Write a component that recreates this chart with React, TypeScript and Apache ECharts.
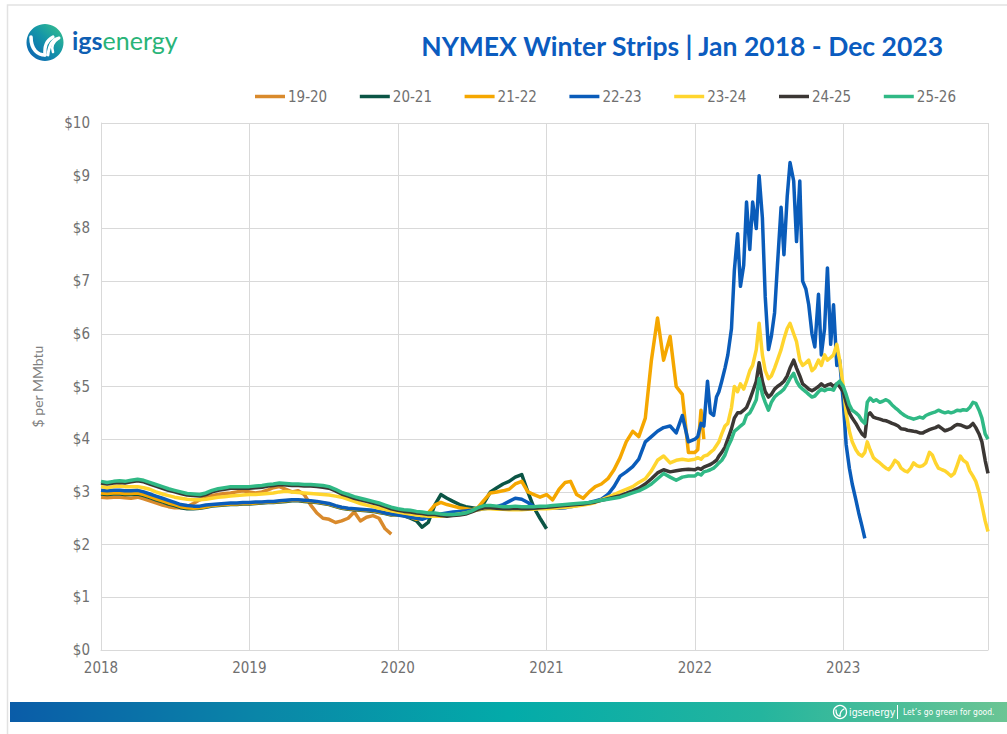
import React, { useEffect, useRef } from "react";
import * as echarts from "echarts";

const SERIES_NAMES = ["19-20", "20-21", "21-22", "22-23", "23-24", "24-25", "25-26"];
const SERIES_COLORS = ["#D98A2C", "#0B5545", "#F5A700", "#0A5CBA", "#FFD52E", "#3B3734", "#30B985"];

const TITLE = "NYMEX Winter Strips | Jan 2018 - Dec 2023";
const Y_NAME = "$ per MMbtu";

// sampling grid of the x axis (dates)
const SEMI_MONTHLY_YEARS = [2018, 2019, 2020, 2021];
const SEMI_MONTHLY_DAYS = [1, 16];
const WEEKLY_YEARS = [2022, 2023];
const WEEKLY_DAYS = [1, 8, 16, 23];

const pad = (n: number) => (n < 10 ? "0" + n : "" + n);
const DATES: string[] = [];
SEMI_MONTHLY_YEARS.forEach((y) => {
  for (let m = 1; m <= 12; m++) SEMI_MONTHLY_DAYS.forEach((d) => DATES.push(`${y}-${pad(m)}-${pad(d)}`));
});
WEEKLY_YEARS.forEach((y) => {
  for (let m = 1; m <= 12; m++) WEEKLY_DAYS.forEach((d) => DATES.push(`${y}-${pad(m)}-${pad(d)}`));
});

// values ($/MMbtu), aligned to DATES from the first date
const S_19_20 = [
  2.9, 2.89, 2.9, 2.9, 2.89, 2.88, 2.9, 2.87, 2.83, 2.79, 2.75, 2.72, 2.7, 2.7, 2.72, 2.78, 2.85, 2.9, 2.93, 2.95, 2.97, 2.98, 3.0, 3.02,
  3.0, 2.98, 3.0, 3.04, 3.08, 3.1, 3.05, 3.0, 3.02, 2.95, 2.75, 2.6, 2.5, 2.48, 2.42, 2.45, 2.5, 2.62, 2.45, 2.52, 2.55, 2.5, 2.3, 2.2,
];
const S_20_21 = [
  2.96, 2.95, 2.96, 2.96, 2.95, 2.95, 2.96, 2.93, 2.89, 2.85, 2.81, 2.77, 2.74, 2.7, 2.68, 2.68, 2.69, 2.71, 2.73, 2.74, 2.75, 2.76, 2.76, 2.77,
  2.77, 2.78, 2.79, 2.8, 2.8, 2.81, 2.82, 2.83, 2.83, 2.82, 2.81, 2.8, 2.78, 2.76, 2.72, 2.69, 2.67, 2.66, 2.65, 2.64, 2.63, 2.61, 2.59, 2.56,
  2.57, 2.55, 2.5, 2.45, 2.33, 2.42, 2.75, 2.95, 2.88, 2.82, 2.76, 2.72, 2.7, 2.68, 2.8, 3.0, 3.08, 3.15, 3.2, 3.28, 3.33, 3.0, 2.7, 2.5,
  2.3,
];
const S_21_22 = [
  2.98, 2.97, 2.98, 2.98, 2.97, 2.97, 2.98, 2.95, 2.91, 2.87, 2.83, 2.79, 2.76, 2.72, 2.7, 2.69, 2.7, 2.72, 2.74, 2.75, 2.76, 2.77, 2.77, 2.78,
  2.78, 2.79, 2.8, 2.81, 2.81, 2.82, 2.83, 2.84, 2.84, 2.83, 2.82, 2.81, 2.79, 2.77, 2.73, 2.7, 2.68, 2.67, 2.66, 2.65, 2.64, 2.62, 2.6, 2.57,
  2.56, 2.55, 2.52, 2.48, 2.5, 2.6, 2.75, 2.8, 2.76, 2.73, 2.7, 2.68, 2.66, 2.7, 2.85, 2.98, 3.0, 3.02, 3.05, 3.15, 3.2, 3.0, 2.95, 2.9,
  2.95, 2.85, 3.05, 3.18, 3.2, 2.95, 2.88, 3.0, 3.1, 3.15, 3.25, 3.42, 3.65, 3.95, 4.15, 4.05, 4.4, 5.5, 6.3, 5.5, 5.95, 5.0, 4.85, 3.75,
  3.75, 3.8, 4.55, 4.0,
];
const S_22_23 = [
  3.03, 3.02, 3.03, 3.03, 3.02, 3.02, 3.03, 3.0, 2.96, 2.92, 2.88, 2.84, 2.8, 2.76, 2.74, 2.73, 2.73, 2.75, 2.76, 2.77, 2.78, 2.79, 2.79, 2.8,
  2.8, 2.81, 2.81, 2.82, 2.82, 2.83, 2.84, 2.85, 2.85, 2.84, 2.83, 2.82, 2.8, 2.78, 2.74, 2.71, 2.69, 2.68, 2.67, 2.66, 2.65, 2.63, 2.6, 2.58,
  2.56, 2.54, 2.52, 2.5, 2.48, 2.52, 2.56, 2.58, 2.6, 2.62, 2.63, 2.64, 2.65, 2.66, 2.68, 2.7, 2.72, 2.76, 2.82, 2.88, 2.86, 2.8, 2.72, 2.7,
  2.7, 2.7, 2.69, 2.7, 2.72, 2.74, 2.77, 2.8, 2.83, 2.86, 2.95, 3.1, 3.3, 3.38, 3.48, 3.62, 3.95, 4.05, 4.15, 4.22, 4.25, 4.12, 4.45, 3.95,
  4.0, 4.05, 4.3, 4.25, 5.1, 4.5, 4.45, 4.8, 4.9, 5.1, 5.35, 5.6, 6.1, 7.2, 7.9, 6.9, 7.3, 8.5, 7.6, 8.5, 8.0, 9.0, 8.2, 6.7,
  5.7, 5.95, 6.4, 7.3, 8.4, 7.5, 8.6, 9.25, 8.9, 7.75, 8.9, 7.0, 6.85, 6.55, 6.0, 5.75, 6.75, 5.6, 6.1, 7.25, 5.8, 6.55, 5.4, 5.5,
  4.7, 3.9, 3.45, 3.15, 2.85, 2.6, 2.35, 2.12,
];
const S_23_24 = [
  3.1, 3.08, 3.1, 3.11, 3.1, 3.1, 3.1, 3.08, 3.05, 3.0, 2.96, 2.93, 2.9, 2.88, 2.86, 2.85, 2.85, 2.86, 2.88, 2.9, 2.91, 2.92, 2.93, 2.94,
  2.95, 2.95, 2.96, 2.97, 2.98, 3.0, 3.01, 3.0, 2.99, 2.98, 2.97, 2.96, 2.95, 2.94, 2.92, 2.9, 2.86, 2.82, 2.78, 2.75, 2.72, 2.69, 2.67, 2.64,
  2.62, 2.6, 2.58, 2.56, 2.55, 2.54, 2.54, 2.54, 2.55, 2.56, 2.58, 2.6, 2.63, 2.66, 2.68, 2.68, 2.67, 2.67, 2.66, 2.66, 2.66, 2.67, 2.67, 2.68,
  2.68, 2.69, 2.7, 2.71, 2.72, 2.73, 2.75, 2.77, 2.8, 2.85, 2.9, 2.95, 3.0, 3.05, 3.1, 3.18, 3.25, 3.4, 3.6, 3.68, 3.55, 3.6, 3.62, 3.6,
  3.62, 3.65, 3.62, 3.68, 3.7, 3.75, 3.8, 3.88, 3.95, 4.1, 4.25, 4.3, 4.6, 5.0, 4.9, 5.05, 4.95, 5.1, 5.3, 5.4, 5.7, 6.2, 5.6, 5.3,
  5.15, 5.2, 5.35, 5.5, 5.7, 5.9, 6.1, 6.2, 6.0, 5.85, 5.5, 5.4, 5.45, 5.5, 5.3, 5.35, 5.5, 5.4, 5.6, 5.5, 5.55, 5.6, 5.8, 5.5,
  5.0, 4.5, 4.15, 3.95, 3.8, 3.72, 3.68, 3.75, 3.95, 3.8, 3.65, 3.6, 3.55, 3.5, 3.45, 3.42, 3.5, 3.6, 3.55, 3.45, 3.4, 3.38, 3.45, 3.55,
  3.5, 3.48, 3.5, 3.55, 3.75, 3.7, 3.55, 3.45, 3.42, 3.4, 3.35, 3.3, 3.35, 3.5, 3.68, 3.6, 3.55, 3.4, 3.3, 3.2, 3.0, 2.75, 2.45, 2.25,
];
const S_24_25 = [
  3.17, 3.15, 3.17, 3.18, 3.17, 3.19, 3.21, 3.19, 3.15, 3.11, 3.07, 3.03, 3.0, 2.97, 2.94, 2.93, 2.92, 2.95, 3.0, 3.03, 3.05, 3.07, 3.07, 3.07,
  3.07, 3.08, 3.09, 3.11, 3.12, 3.14, 3.13, 3.12, 3.12, 3.11, 3.11, 3.1, 3.09, 3.07, 3.02, 2.96, 2.92, 2.88, 2.85, 2.82, 2.79, 2.76, 2.72, 2.68,
  2.65, 2.63, 2.62, 2.6, 2.59, 2.57, 2.57, 2.55, 2.54, 2.55, 2.56, 2.58, 2.62, 2.67, 2.7, 2.7, 2.69, 2.68, 2.68, 2.69, 2.68, 2.68, 2.69, 2.7,
  2.71, 2.72, 2.73, 2.74, 2.75, 2.76, 2.77, 2.79, 2.81, 2.84, 2.87, 2.9, 2.93, 2.97, 3.02, 3.07, 3.15, 3.25, 3.36, 3.42, 3.38, 3.4, 3.42, 3.43,
  3.42, 3.45, 3.43, 3.47, 3.5, 3.52, 3.56, 3.6, 3.68, 3.75, 3.85, 4.0, 4.2, 4.4, 4.5, 4.5, 4.55, 4.6, 4.75, 4.9, 5.1, 5.45, 5.1, 4.9,
  4.8, 4.85, 4.95, 5.0, 5.05, 5.1, 5.2, 5.35, 5.5, 5.35, 5.2, 5.05, 5.0, 4.95, 4.92, 4.95, 5.0, 5.05, 5.0, 5.03, 5.05, 5.0, 5.05, 5.0,
  4.9, 4.7, 4.5, 4.4, 4.3, 4.2, 4.1, 4.05, 4.45, 4.5, 4.42, 4.4, 4.38, 4.36, 4.35, 4.33, 4.3, 4.28, 4.25, 4.2, 4.19, 4.17, 4.16, 4.15,
  4.14, 4.12, 4.12, 4.15, 4.18, 4.2, 4.22, 4.25, 4.2, 4.16, 4.18, 4.2, 4.25, 4.28, 4.27, 4.25, 4.22, 4.24, 4.3, 4.22, 4.1, 3.95, 3.6, 3.35,
];
const S_25_26 = [
  3.2, 3.18, 3.2, 3.21, 3.2, 3.22, 3.24, 3.22, 3.18, 3.14, 3.1, 3.06, 3.03, 3.0, 2.97, 2.96, 2.95, 2.98, 3.03, 3.06, 3.08, 3.1, 3.1, 3.1,
  3.1, 3.11, 3.12, 3.14, 3.15, 3.17, 3.16, 3.15, 3.15, 3.14, 3.14, 3.13, 3.12, 3.1, 3.05, 2.99, 2.95, 2.91, 2.88, 2.85, 2.82, 2.79, 2.75, 2.71,
  2.68, 2.66, 2.65, 2.63, 2.62, 2.6, 2.6, 2.58, 2.57, 2.57, 2.58, 2.6, 2.64, 2.7, 2.74, 2.74, 2.73, 2.72, 2.72, 2.73, 2.72, 2.72, 2.72, 2.73,
  2.73, 2.74, 2.75, 2.76, 2.77, 2.78, 2.79, 2.8, 2.82, 2.84, 2.86, 2.88, 2.9, 2.94, 2.98, 3.02, 3.08, 3.15, 3.25, 3.35, 3.28, 3.22, 3.28, 3.3,
  3.3, 3.35, 3.32, 3.38, 3.4, 3.42, 3.45, 3.5, 3.55, 3.6, 3.7, 3.85, 4.0, 4.15, 4.2, 4.25, 4.3, 4.45, 4.5, 4.6, 4.75, 5.15, 4.85, 4.7,
  4.55, 4.7, 4.8, 4.85, 4.9, 4.95, 5.05, 5.15, 5.25, 5.1, 5.0, 4.95, 4.9, 4.85, 4.8, 4.82, 4.9, 4.95, 4.92, 4.95, 4.95, 4.93, 5.05, 5.1,
  5.0, 4.85, 4.65, 4.55, 4.5, 4.45, 4.35, 4.3, 4.7, 4.78, 4.72, 4.75, 4.7, 4.72, 4.75, 4.72, 4.65, 4.6, 4.55, 4.5, 4.45, 4.42, 4.4, 4.38,
  4.4, 4.42, 4.4, 4.45, 4.48, 4.5, 4.52, 4.55, 4.52, 4.5, 4.52, 4.5, 4.52, 4.55, 4.54, 4.56, 4.55, 4.6, 4.7, 4.68, 4.55, 4.4, 4.1, 4.0,
];
const SERIES_VALUES = [S_19_20, S_20_21, S_21_22, S_22_23, S_23_24, S_24_25, S_25_26];

const NARROW = '"Liberation Sans Narrow", "DejaVu Sans Condensed", Roboto, sans-serif';
const LATO = 'Lato, "Noto Sans", sans-serif';
const YEAR_MS = 365.25 * 24 * 3600 * 1000;

export default function App() {
  const ref = useRef<HTMLDivElement>(null);
  useEffect(() => {
    if (!ref.current) return;
    const chart = echarts.init(ref.current, undefined, { renderer: "svg" });
    const W = "#ffffff";
    const leaf = (x1: number, y1: number, c1x: number, c1y: number, c2x: number, c2y: number, x2: number, y2: number, lw: number) => ({
      type: "bezierCurve",
      shape: { x1, y1, cpx1: c1x, cpy1: c1y, cpx2: c2x, cpy2: c2y, x2, y2 },
      style: { stroke: W, lineWidth: lw, fill: "none", lineCap: "round" },
      silent: true,
    });
    const option: any = {
      animation: false,
      backgroundColor: "#ffffff",
      grid: { left: 101, right: 19, top: 123, bottom: 84, containLabel: false },
      legend: SERIES_NAMES.map((name, i) => ({
        data: [name],
        left: 250 + i * 104.8,
        top: 84,
        icon: "rect",
        itemWidth: 30,
        itemHeight: 3.5,
        itemGap: 0,
        selectedMode: false,
        textStyle: { color: "#707070", fontSize: 15, fontFamily: NARROW, padding: [0, 0, 0, -2] },
      })),
      xAxis: {
        type: "time",
        min: "2018-01-01",
        max: "2023-12-23",
        minInterval: YEAR_MS,
        maxInterval: YEAR_MS,
        axisLine: { show: true, lineStyle: { color: "#d9d9d9", width: 1 } },
        axisTick: { show: false },
        axisLabel: { formatter: "{yyyy}", color: "#707070", fontSize: 15, fontFamily: NARROW, margin: 10 },
        splitLine: { show: true, lineStyle: { color: "#d9d9d9", width: 1 } },
      },
      yAxis: {
        type: "value",
        min: 0,
        max: 10,
        interval: 1,
        name: Y_NAME,
        nameLocation: "middle",
        nameGap: 57,
        nameRotate: 90,
        nameTextStyle: { color: "#7f7f7f", fontSize: 14, fontFamily: LATO },
        axisLine: { show: true, lineStyle: { color: "#d9d9d9", width: 1 } },
        axisTick: { show: false },
        axisLabel: { formatter: "${value}", color: "#707070", fontSize: 15, fontFamily: NARROW, margin: 11 },
        splitLine: { show: true, lineStyle: { color: "#d9d9d9", width: 1 } },
      },
      series: SERIES_NAMES.map((name, i) => ({
        name,
        type: "line",
        color: SERIES_COLORS[i],
        showSymbol: false,
        symbol: "none",
        lineStyle: { width: 3.5, color: SERIES_COLORS[i], join: "round" },
        data: SERIES_VALUES[i].map((v, k) => [DATES[k], v]),
      })),
      graphic: [
        { type: "rect", shape: { x: 7.5, y: 5, width: 1010, height: 740 }, style: { fill: "none", stroke: "#e2e2e2", lineWidth: 1.5 }, silent: true, z: -5 },
        {
          type: "circle",
          shape: { cx: 45, cy: 42.5, r: 18.5 },
          style: {
            fill: new echarts.graphic.LinearGradient(0, 1, 1, 0, [
              { offset: 0, color: "#0b5cb5" },
              { offset: 0.55, color: "#1496a8" },
              { offset: 1, color: "#3cc48a" },
            ]),
          },
          silent: true,
        },
        leaf(31, 37, 31, 50, 38, 55, 45, 55, 3.6),
        leaf(45, 55, 44, 46, 47, 40, 53, 37, 3.2),
        leaf(48, 55, 49, 45, 53, 39, 59, 38, 2.8),
        leaf(59, 38, 53, 42, 51, 47, 53, 52, 2.6),
        {
          type: "text",
          x: 72,
          y: 40,
          style: {
            text: "{a|igs}{b|energy}",
            verticalAlign: "middle",
            rich: {
              a: { fontFamily: LATO, fontWeight: "bold", fontSize: 25, fill: "#0e5fb3", color: "#0e5fb3" },
              b: { fontFamily: LATO, fontWeight: "normal", fontSize: 25, fill: "#29b478", color: "#29b478" },
            },
          },
          silent: true,
        },
        {
          type: "text",
          x: 943,
          y: 46,
          style: { text: TITLE, fontFamily: LATO, fontWeight: "bold", fontSize: 26.5, fill: "#0b5cbf", align: "right", verticalAlign: "middle" },
          silent: true,
        },
        {
          type: "rect",
          shape: { x: 10, y: 702, width: 1000, height: 20 },
          style: {
            fill: new echarts.graphic.LinearGradient(0, 0, 1, 0, [
              { offset: 0, color: "#0a5ca8" },
              { offset: 0.25, color: "#0a86a8" },
              { offset: 0.5, color: "#03aba9" },
              { offset: 0.75, color: "#24b59e" },
              { offset: 1, color: "#6cc594" },
            ]),
          },
          silent: true,
        },
        { type: "circle", shape: { cx: 840, cy: 712, r: 6.5 }, style: { fill: "none", stroke: W, lineWidth: 1.3 }, silent: true },
        leaf(836, 710, 836, 714, 838, 716, 840, 716, 1.3),
        leaf(840, 716, 840, 713, 842, 710, 844, 709, 1.3),
        {
          type: "text",
          x: 849,
          y: 712,
          style: { text: "igsenergy", fontFamily: NARROW, fontSize: 10.5, fill: W, verticalAlign: "middle" },
          silent: true,
        },
        { type: "line", shape: { x1: 897.5, y1: 705, x2: 897.5, y2: 719 }, style: { stroke: W, lineWidth: 1 }, silent: true },
        {
          type: "text",
          x: 903,
          y: 712,
          style: { text: "Let’s go green for good.", fontFamily: NARROW, fontSize: 8.5, fill: W, verticalAlign: "middle" },
          silent: true,
        },
      ],
    };
    chart.setOption(option);
    return () => chart.dispose();
  }, []);
  return (
    <div
      ref={ref}
      style={{ position: "absolute", left: 0, top: 0, width: 1007, height: 734, background: "#fff" }}
    />
  );
}
